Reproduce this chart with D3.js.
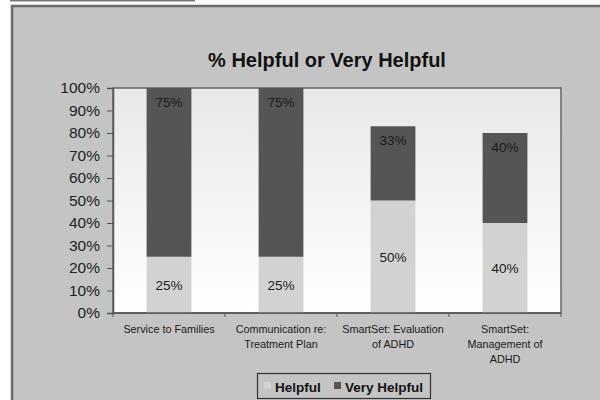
<!DOCTYPE html>
<html><head><meta charset="utf-8">
<script src="https://cdn.jsdelivr.net/npm/d3@7"></script>
<style>html,body{margin:0;padding:0;background:#fff;}svg{display:block;}</style>
</head><body>
<svg id="c" width="600" height="400"></svg>
<script>
const categories = [["Service to Families"], ["Communication re:", "Treatment Plan"], ["SmartSet: Evaluation", "of ADHD"], ["SmartSet:", "Management of", "ADHD"]];
const helpful = [25, 25, 50, 40];
const veryHelpful = [75, 75, 33, 40];
const seriesNames = ["Helpful", "Very Helpful"];
const yTicks = [0, 10, 20, 30, 40, 50, 60, 70, 80, 90, 100];
const title = "% Helpful or Very Helpful";

const svg = d3.select("#c");
const font = "'Liberation Sans', Arial, sans-serif";
const bg = "#c4c4c4", dark = "#555555", light = "#d2d2d2";

// outer frame
svg.append("rect").attr("x", 0).attr("y", 0).attr("width", 600).attr("height", 400).attr("fill", "#fff");
svg.append("rect").attr("x", 10).attr("y", 0).attr("width", 185).attr("height", 1.5).attr("fill", "#777");
svg.append("rect").attr("x", 12).attr("y", 6).attr("width", 590).attr("height", 396).attr("fill", bg)
  .attr("stroke", "#6a6a6a").attr("stroke-width", 2.5);

const L = 113, R = 561, T = 88, B = 313;
const x = d3.scaleBand().domain(d3.range(categories.length)).range([L, R]).paddingInner(0.6).paddingOuter(0.3);
const xb = d3.scaleBand().domain(d3.range(categories.length)).range([L, R]);
const y = d3.scaleLinear().domain([0, 100]).range([B, T]);

// plot gradient
const defs = svg.append("defs");
const g = defs.append("linearGradient").attr("id", "pg").attr("x1", 0).attr("y1", 0).attr("x2", 0).attr("y2", 1);
g.append("stop").attr("offset", "0%").attr("stop-color", "#e8e8e8");
g.append("stop").attr("offset", "100%").attr("stop-color", "#ffffff");
svg.append("rect").attr("x", L).attr("y", T).attr("width", R - L).attr("height", B - T).attr("fill", "url(#pg)")
  .attr("stroke", "#666").attr("stroke-width", 1.5);

// title
svg.append("text").attr("x", 327).attr("y", 67).attr("text-anchor", "middle")
  .attr("font-family", font).attr("font-weight", "bold").attr("font-size", 20).attr("fill", "#111").text(title);

// bars
const bars = svg.append("g");
categories.forEach((c, i) => {
  bars.append("rect").attr("x", x(i)).attr("width", x.bandwidth())
    .attr("y", y(helpful[i])).attr("height", y(0) - y(helpful[i])).attr("fill", light);
  bars.append("rect").attr("x", x(i)).attr("width", x.bandwidth())
    .attr("y", y(helpful[i] + veryHelpful[i])).attr("height", y(helpful[i]) - y(helpful[i] + veryHelpful[i])).attr("fill", dark);
  bars.append("text").attr("x", x(i) + x.bandwidth() / 2).attr("y", (y(0) + y(helpful[i])) / 2 + 5)
    .attr("text-anchor", "middle").attr("font-family", font).attr("font-size", 13.5).attr("fill", "#1a1a1a").text(helpful[i] + "%");
  bars.append("text").attr("x", x(i) + x.bandwidth() / 2).attr("y", y(helpful[i] + veryHelpful[i]) + 18.5)
    .attr("text-anchor", "middle").attr("font-family", font).attr("font-size", 13.5).attr("fill", "#1a1a1a").text(veryHelpful[i] + "%");
});

// y axis
const ya = svg.append("g").attr("transform", `translate(${L},0)`)
  .call(d3.axisLeft(y).tickValues(yTicks).tickSize(6).tickPadding(7).tickFormat(d => d + "%"));
ya.select(".domain").attr("stroke", "#555").attr("stroke-width", 1.5);
ya.selectAll(".tick line").attr("stroke", "#555");
ya.selectAll("text").attr("font-family", font).attr("font-size", 15.5).attr("fill", "#222");

// x axis
const xa = svg.append("g").attr("transform", `translate(0,${B})`);
xa.append("line").attr("x1", L).attr("x2", R).attr("stroke", "#555").attr("stroke-width", 1.5);
d3.range(categories.length + 1).forEach(i => {
  const xx = i < categories.length ? xb(i) : R;
  xa.append("line").attr("x1", xx).attr("x2", xx).attr("y1", 0).attr("y2", 4).attr("stroke", "#555");
});
categories.forEach((lines, i) => {
  const t = xa.append("text").attr("text-anchor", "middle").attr("font-family", font).attr("font-size", 10.8).attr("fill", "#1a1a1a");
  lines.forEach((ln, j) => t.append("tspan").attr("x", xb(i) + xb.bandwidth() / 2).attr("y", 20 + j * 15).text(ln));
});

// legend
const lg = svg.append("g");
lg.append("rect").attr("x", 257.5).attr("y", 373.5).attr("width", 173).attr("height", 25).attr("fill", bg).attr("stroke", "#333").attr("stroke-width", 1.2);
const lx = [264, 334];
seriesNames.forEach((s, i) => {
  lg.append("rect").attr("x", lx[i]).attr("y", 382).attr("width", 7).attr("height", 7).attr("fill", i === 0 ? light : dark);
  lg.append("text").attr("x", lx[i] + 11).attr("y", 391.5).attr("font-family", font).attr("font-weight", "bold")
    .attr("font-size", 13.5).attr("fill", "#111").text(s);
});
</script>
</body></html>
